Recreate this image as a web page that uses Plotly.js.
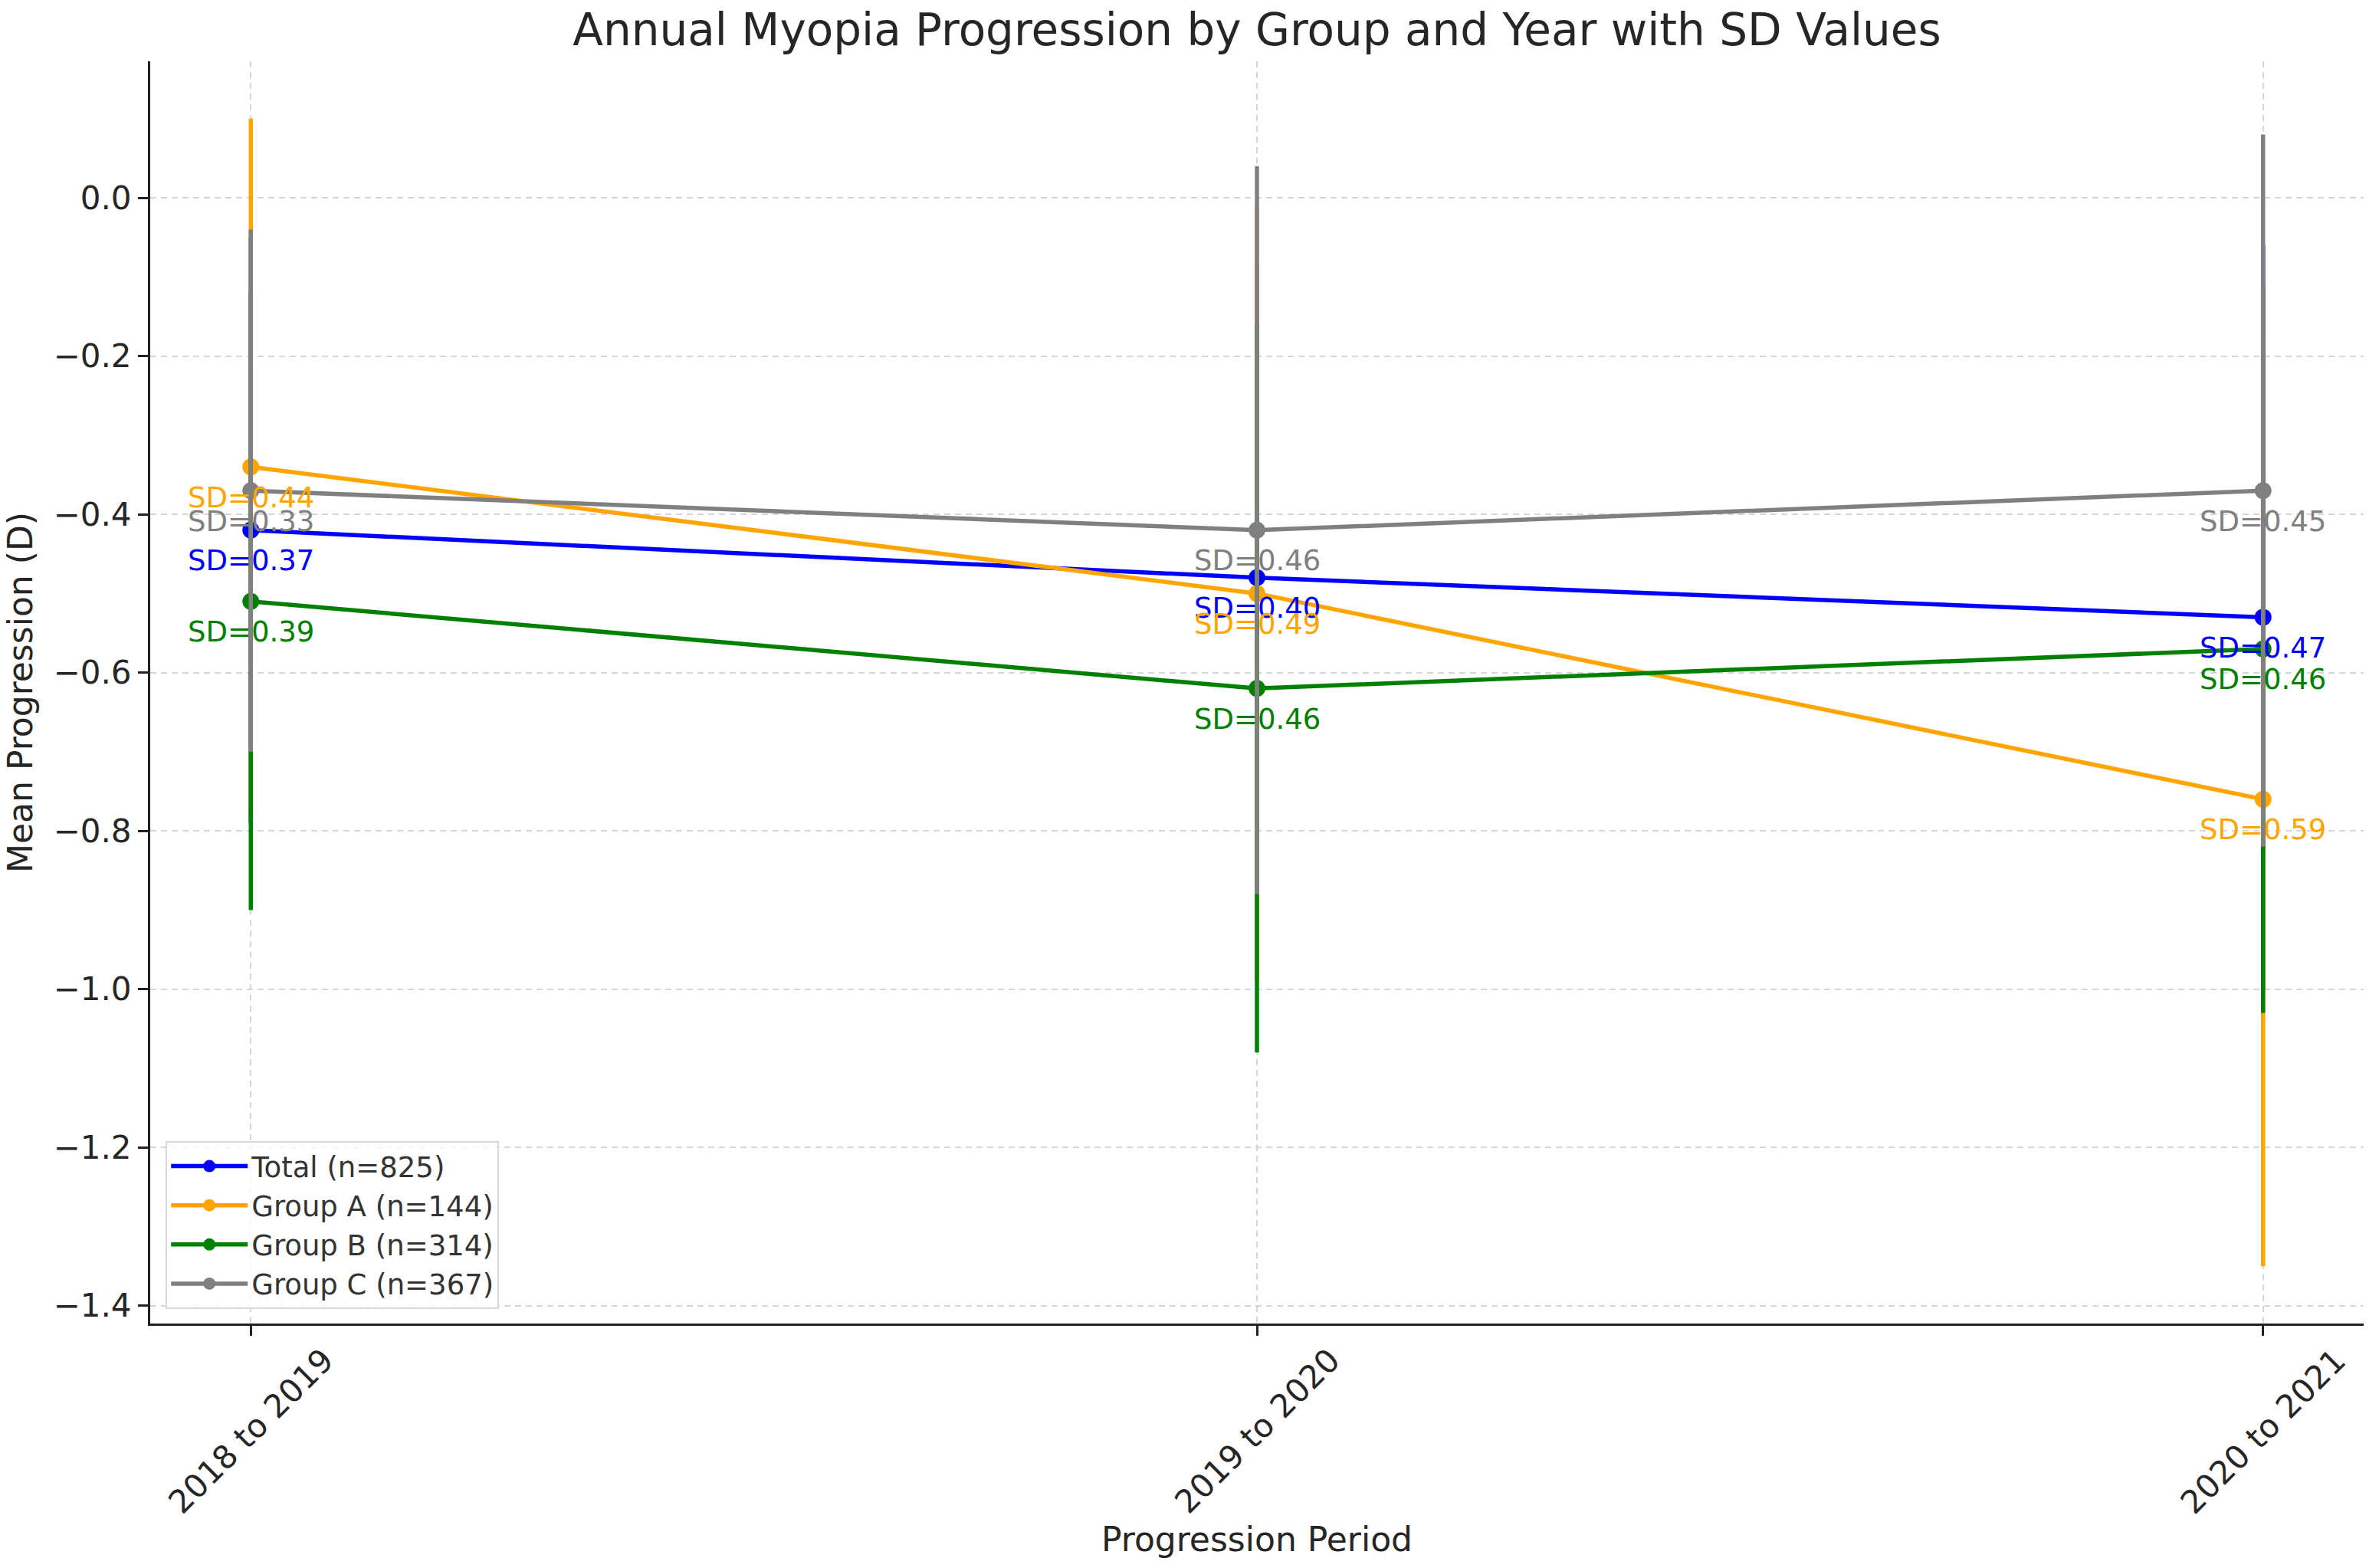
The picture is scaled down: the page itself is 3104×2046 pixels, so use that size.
<!DOCTYPE html>
<html>
<head>
<meta charset="utf-8">
<script src="https://cdn.plot.ly/plotly-3.0.1.min.js"></script>
<style>html,body{margin:0;padding:0;background:#fff;}#chart{width:3104px;height:2046px;}</style>
</head>
<body>
<div id="chart"></div>
<script>
const periods = ["2018 to 2019", "2019 to 2020", "2020 to 2021"];
const seriesNames = ["Total (n=825)", "Group A (n=144)", "Group B (n=314)", "Group C (n=367)"];
const seriesColors = ["blue", "orange", "green", "gray"];
const totalMean = [-0.42, -0.48, -0.53];
const totalSD = [0.37, 0.40, 0.47];
const groupAMean = [-0.34, -0.50, -0.76];
const groupASD = [0.44, 0.49, 0.59];
const groupBMean = [-0.51, -0.62, -0.57];
const groupBSD = [0.39, 0.46, 0.46];
const groupCMean = [-0.37, -0.42, -0.37];
const groupCSD = [0.33, 0.46, 0.45];
const yTickVals = [0.0, -0.2, -0.4, -0.6, -0.8, -1.0, -1.2, -1.4];

const means = [totalMean, groupAMean, groupBMean, groupCMean];
const sds = [totalSD, groupASD, groupBSD, groupCSD];
const FONT = "DejaVu Sans, Verdana, sans-serif";

const traces = means.map((m, i) => ({
  type: "scatter",
  mode: "lines+markers",
  name: seriesNames[i],
  x: periods,
  y: m,
  line: {color: seriesColors[i], width: 5.5},
  marker: {color: seriesColors[i], size: 22},
  error_y: {type: "data", array: sds[i], visible: true, color: seriesColors[i], thickness: 5.5, width: 0}
}));

const annotations = [];
means.forEach((m, i) => {
  m.forEach((v, j) => {
    annotations.push({
      x: periods[j], y: v, xref: "x", yref: "y",
      text: "SD=" + sds[i][j].toFixed(2),
      showarrow: false, xanchor: "center", yanchor: "middle", yshift: -40,
      font: {family: FONT, size: 37, color: seriesColors[i]}
    });
  });
});
periods.forEach(p => {
  annotations.push({
    x: p, y: 0, xref: "x", yref: "paper",
    text: p, showarrow: false, textangle: -45,
    xanchor: "center", yanchor: "top", yshift: -20,
    font: {family: FONT, size: 42, color: "#262626"}
  });
});

const layout = {
  width: 3104, height: 2046,
  margin: {l: 196, r: 20, t: 80, b: 319},
  paper_bgcolor: "#ffffff", plot_bgcolor: "#ffffff",
  font: {family: FONT, color: "#262626"},
  title: {
    text: "Annual Myopia Progression by Group and Year with SD Values",
    font: {family: FONT, size: 58, color: "#262626"},
    x: 0.5, xref: "paper", xanchor: "center",
    y: 0.981, yref: "container", yanchor: "middle"
  },
  xaxis: {
    type: "category",
    range: [-0.1, 2.1],
    showticklabels: false,
    showline: true, linecolor: "#222222", linewidth: 3,
    ticks: "outside", ticklen: 13, tickwidth: 3, tickcolor: "#222222",
    showgrid: true, gridcolor: "#d6d6d6", gridwidth: 2, griddash: "8px,6px",
    zeroline: false,
    title: {text: "Progression Period", font: {family: FONT, size: 44, color: "#262626"}, standoff: 252}
  },
  yaxis: {
    range: [-1.4225, 0.1725],
    tickvals: yTickVals,
    tickformat: ".1f",
    tickfont: {family: FONT, size: 42, color: "#262626"},
    showline: true, linecolor: "#222222", linewidth: 3,
    ticks: "outside", ticklen: 13, tickwidth: 3, tickcolor: "#222222",
    showgrid: true, gridcolor: "#d6d6d6", gridwidth: 2, griddash: "8px,6px",
    zeroline: false,
    title: {text: "Mean Progression (D)", font: {family: FONT, size: 44, color: "#262626"}, standoff: 14}
  },
  legend: {
    x: 0.007, y: 0.0115, xanchor: "left", yanchor: "bottom",
    bgcolor: "rgba(255,255,255,0.8)", bordercolor: "#d8d8d8", borderwidth: 2,
    font: {family: FONT, size: 37, color: "#333333"},
    itemwidth: 100,
    tracegroupgap: 0
  },
  showlegend: true,
  annotations: annotations
};

Plotly.newPlot("chart", traces, layout, {displayModeBar: false, staticPlot: true});
</script>
</body>
</html>
